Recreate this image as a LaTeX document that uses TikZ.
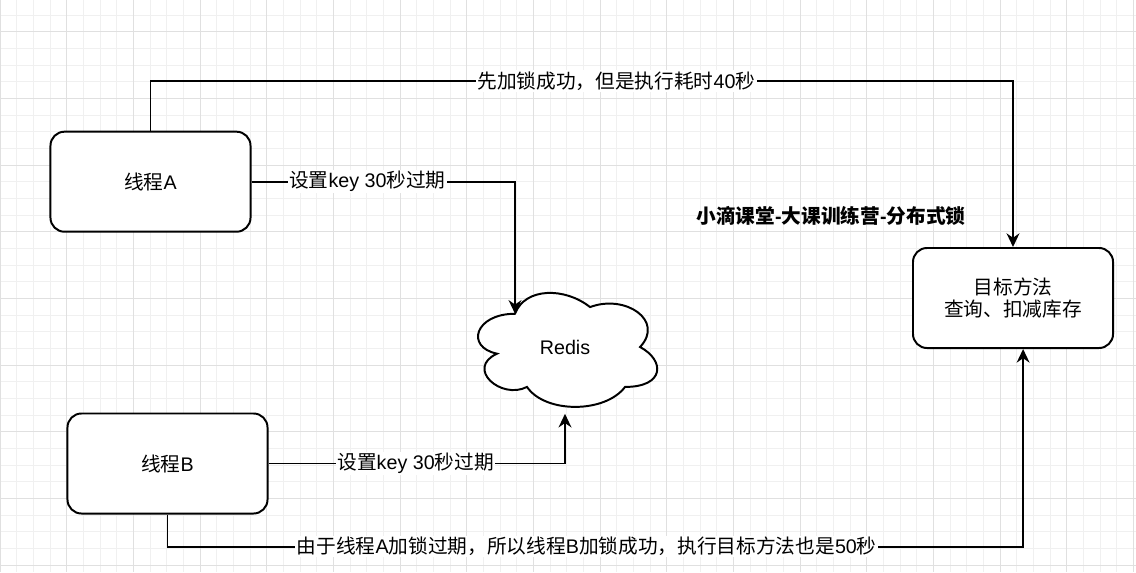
\documentclass[tikz,border=0pt]{standalone}
\usepackage{fontspec}
\setmainfont{Liberation Sans}
\newfontfamily\zhfont{Noto Sans CJK SC}
\newcommand{\zh}[1]{{\zhfont #1}}
\usetikzlibrary{arrows.meta, calc}

\begin{document}
\begin{tikzpicture}[
	x=0.025cm, y=-0.025cm,
	font=\fontsize{14}{15.6}\selectfont,
	gridminor/.style={draw=black!6, line width=0.6pt},
	gridmajor/.style={draw=black!12, line width=0.6pt},
	thread/.style={draw, fill=white, line width=1.4pt, rounded corners=0.35cm, minimum width=5cm, minimum height=2.5cm},
	flow/.style={draw, line width=1.4pt, -{Stealth[length=0.34cm, width=0.32cm, inset=0.11cm]}},
	note/.style={fill=white, inner sep=1pt},
	headline/.style={font=\fontsize{14}{15.6}\selectfont\bfseries}
	]
	\useasboundingbox (0,0) rectangle (1136,572);
	\fill[white] (0,0) rectangle (1136,572);
	% grid
	\foreach \i in {0,...,68} \draw[gridminor] ({\i*16.667},0) -- ({\i*16.667},572);
	\foreach \j in {0,...,33} \draw[gridminor] (0,{15+\j*16.667}) -- (1136,{15+\j*16.667});
	\foreach \i in {0,...,17} \draw[gridmajor] ({\i*66.667},0) -- ({\i*66.667},572);
	\foreach \j in {0,...,8} \draw[gridmajor] (0,{31.667+\j*66.667}) -- (1136,{31.667+\j*66.667});

	\node[thread] (threadA) at (150.5,181.7) {\zh{线程}A};
	\node[thread] (threadB) at (167.5,463.5) {\zh{线程}B};
	\node[thread, align=center] (target) at (1013,298) {\zh{目标方法}\\\zh{查询、扣减库存}};
	\node[headline] (title) at (831,216) {\zh{小滴课堂}-\zh{大课训练营}-\zh{分布式锁}};

	% cloud
	\coordinate (cloudcorner) at (465,280.5);
	\begin{scope}[shift={(cloudcorner)}, x=5cm, y=-3.325cm]
		\draw[fill=white, line width=1.4pt] (0.25,0.25) .. controls (0.05,0.25) and (0,0.5) .. (0.16,0.55)
			.. controls (0,0.66) and (0.18,0.9) .. (0.31,0.8)
			.. controls (0.4,1) and (0.7,1) .. (0.8,0.8)
			.. controls (1,0.8) and (1,0.6) .. (0.875,0.5)
			.. controls (1,0.3) and (0.8,0.1) .. (0.625,0.2)
			.. controls (0.5,0.05) and (0.3,0.05) .. (0.25,0.25) -- cycle;
		\coordinate (redisport) at (0.25,0.25);
	\end{scope}
	\node[minimum width=5cm, minimum height=3.325cm] (redis) at (565,347) {Redis};

	\draw[flow] (threadA.north) -- ++(0,-49.7) -| node[note, pos=0.27] {\zh{先加锁成功，但是执行耗时}40\zh{秒}} (target.north);
	\draw[flow] (threadA.east) -| node[note, pos=0.22] {\zh{设置}key 30\zh{秒过期}} (redisport);
	\draw[flow] (threadB.east) -| node[note, pos=0.248] {\zh{设置}key 30\zh{秒过期}} (redis.south);
	\draw[flow] (threadB.south) -- ++(0,32.2) -| node[note, pos=0.245] {\zh{由于线程}A\zh{加锁过期，所以线程}B\zh{加锁成功，执行目标方法也是}50\zh{秒}} ($(target.south west)!0.55!(target.south east)$);
\end{tikzpicture}
\end{document}
